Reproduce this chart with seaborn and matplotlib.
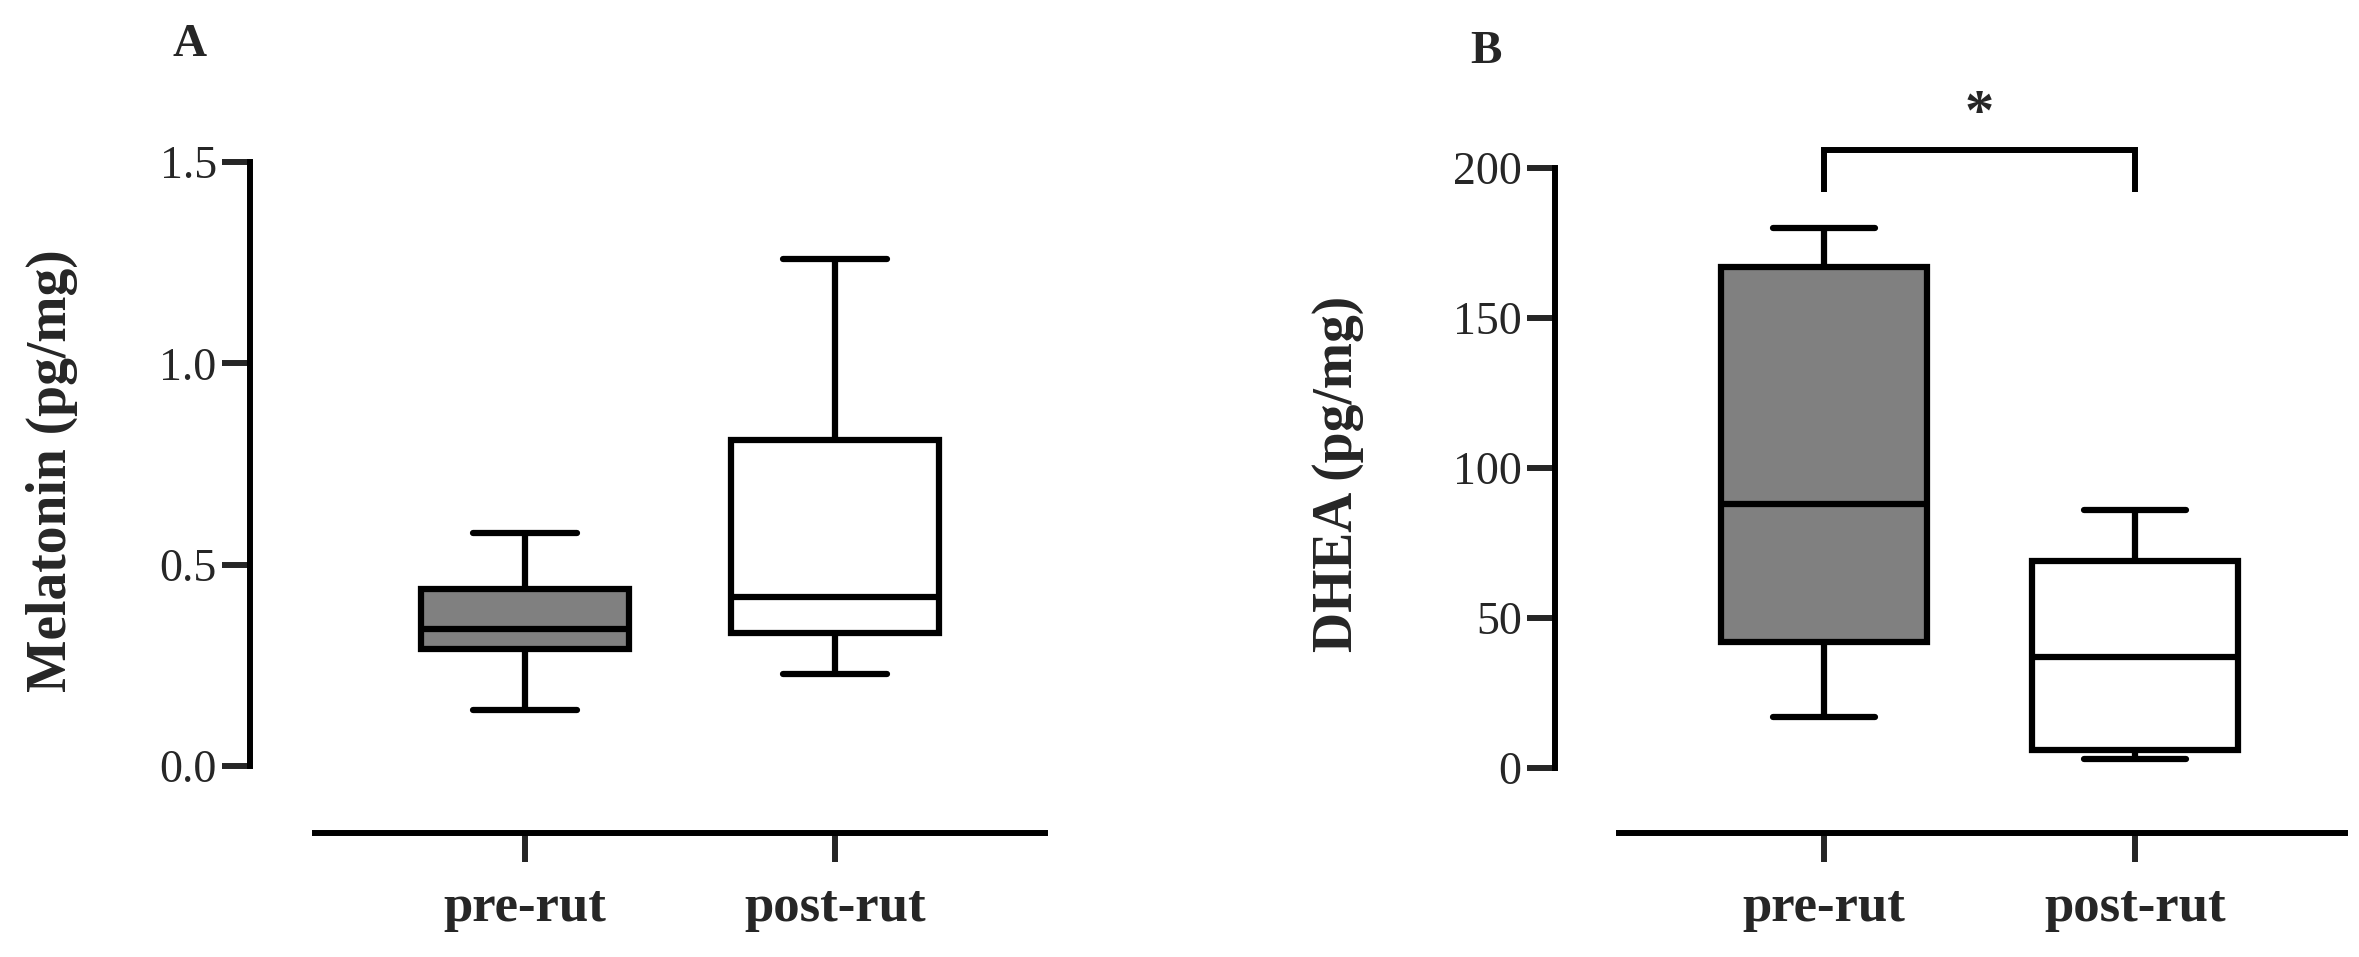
import numpy as np
import pandas as pd
import seaborn as sns
import matplotlib.pyplot as plt

sns.set_style("white")
plt.rcParams['font.family'] = ['Liberation Serif', 'DejaVu Serif']

groups = ["pre-rut", "post-rut"]
# five-number summaries: min, q1, median, q3, max
melatonin_pre = [0.14, 0.29, 0.34, 0.44, 0.58]
melatonin_post = [0.23, 0.33, 0.42, 0.81, 1.26]
dhea_pre = [17, 42, 88, 167, 180]
dhea_post = [3, 6, 37, 69, 86]
fills = ["#808080", "#ffffff"]

W, H = 2359, 957
fig = plt.figure(figsize=(W / 100, H / 100), dpi=100)


def frame(vals_pre, vals_post):
    return pd.DataFrame({
        "group": [groups[0]] * len(vals_pre) + [groups[1]] * len(vals_post),
        "value": vals_pre + vals_post,
    })


def panel(rect, df, xlim, ylim, ybounds, xbounds, yticks, yticklabels, ylabel,
          letter, letter_x, label_x, width):
    ax = fig.add_axes(rect)
    sns.boxplot(data=df, x="group", y="value", hue="group", palette=fills, order=groups,
                whis=(0, 100), width=width, linewidth=4.5, linecolor="black",
                legend=False, ax=ax)
    ax.set_xlim(*xlim)
    ax.set_ylim(*ylim)
    for s in ["top", "right"]:
        ax.spines[s].set_visible(False)
    for s in ["left", "bottom"]:
        ax.spines[s].set_linewidth(4.3)
        ax.spines[s].set_color("black")
    ax.spines["left"].set_bounds(*ybounds)
    ax.spines["bottom"].set_bounds(*xbounds)
    ax.set_yticks(yticks)
    ax.set_yticklabels(yticklabels)
    ax.tick_params(axis="y", length=20, width=4.3, labelsize=33, pad=4, left=True)
    ax.tick_params(axis="x", length=21, width=4.3, labelsize=38, pad=16, bottom=True)
    for t in ax.get_xticklabels():
        t.set_fontweight("bold")
    ax.set_xlabel("")
    ax.set_ylabel(ylabel, fontsize=40, fontweight="bold", va="center")
    ax.yaxis.set_label_coords(label_x, 0.54)
    ax.set_facecolor("white")
    for art in ax.patches + ax.lines:
        art.set_clip_on(False)
    ax.text(letter_x, 1.175, letter, transform=ax.transAxes, fontsize=34, fontweight="bold",
            ha="center", va="center")
    return ax


axA = panel([250 / W, (H - 833) / H, 810 / W, 671 / H], frame(melatonin_pre, melatonin_post),
            (-0.887, 1.726), (-0.166, 1.5), (0, 1.5), (-0.677, 1.677),
            [0, 0.5, 1.0, 1.5], ["0.0", "0.5", "1.0", "1.5"], "Melatonin (pg/mg)",
            "A", -0.074, -0.244, 0.67)

axB = panel([1555 / W, (H - 833) / H, 800 / W, 665 / H], frame(dhea_pre, dhea_post),
            (-0.865, 1.707), (-21.7, 200), (0, 200), (-0.659, 1.675),
            [0, 50, 100, 150, 200], ["0", "50", "100", "150", "200"], "DHEA (pg/mg)",
            "B", -0.086, -0.271, 0.66)

# significance bracket
axB.plot([0, 0, 1, 1], [192, 206, 206, 192], color="black", lw=4.3, clip_on=False,
         solid_capstyle="butt", solid_joinstyle="miter")
axB.text(0.5, 209, "*", ha="center", va="bottom", fontsize=42, fontweight="bold", clip_on=False)

fig.savefig("out.png", dpi=100, facecolor="white")
